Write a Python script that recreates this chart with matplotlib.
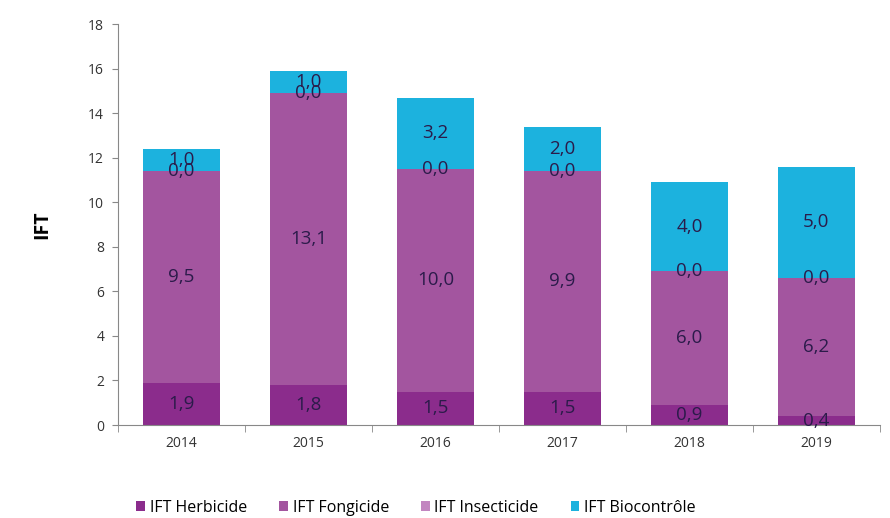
import matplotlib.pyplot as plt
import numpy as np

years = ["2014", "2015", "2016", "2017", "2018", "2019"]
herbicide = [1.9, 1.8, 1.5, 1.5, 0.9, 0.4]
fongicide = [9.5, 13.1, 10.0, 9.9, 6.0, 6.2]
insecticide = [0.0, 0.0, 0.0, 0.0, 0.0, 0.0]
biocontrole = [1.0, 1.0, 3.2, 2.0, 4.0, 5.0]
series_names = ["IFT Herbicide", "IFT Fongicide", "IFT Insecticide", "IFT Biocontrôle"]
colors = ["#8B2C8C", "#A3559F", "#C286C0", "#1CB2DE"]

plt.rcParams['font.family'] = ['Open Sans', 'DejaVu Sans']

fig = plt.figure(figsize=(8.9, 5.18), dpi=100)
ax = fig.add_axes([0.1326, 0.1795, 0.856, 0.774])

x = np.arange(len(years))
bottom = np.zeros(len(years))
text_color = "#2B1B4A"
for name, vals, c in zip(series_names, [herbicide, fongicide, insecticide, biocontrole], colors):
    vals = np.array(vals)
    ax.bar(x, vals, 0.61, bottom=bottom, color=c, label=name)
    for xi, b, v in zip(x, bottom, vals):
        ax.text(xi, b + v / 2, f"{v:.1f}".replace(".", ","), ha="center", va="center",
                fontsize=13.5, color=text_color)
    bottom += vals

ax.set_xlim(-0.5, len(years) - 0.5)
ax.set_ylim(0, 18)
ax.set_yticks(range(0, 19, 2))
ax.set_xticks(x)
ax.set_xticklabels(years)
ax.set_xticks(np.arange(-0.5, len(years), 1), minor=True)
ax.tick_params(axis="x", which="major", length=0, labelsize=10, pad=8, colors="#333333")
ax.tick_params(axis="x", which="minor", length=5, color="#888888")
ax.tick_params(axis="y", length=4, labelsize=10, pad=6, color="#888888", labelcolor="#333333")
for s in ["top", "right"]:
    ax.spines[s].set_visible(False)
for s in ["left", "bottom"]:
    ax.spines[s].set_color("#888888")
ax.set_ylabel("IFT", fontsize=14, fontweight="bold", labelpad=26)

ax.legend(loc="upper left", bbox_to_anchor=(0.005, -0.15), ncol=4, frameon=False,
          fontsize=11.5, handlelength=0.55, handleheight=0.55, handletextpad=0.3,
          columnspacing=2.0)

fig.savefig("out.png", dpi=100)
